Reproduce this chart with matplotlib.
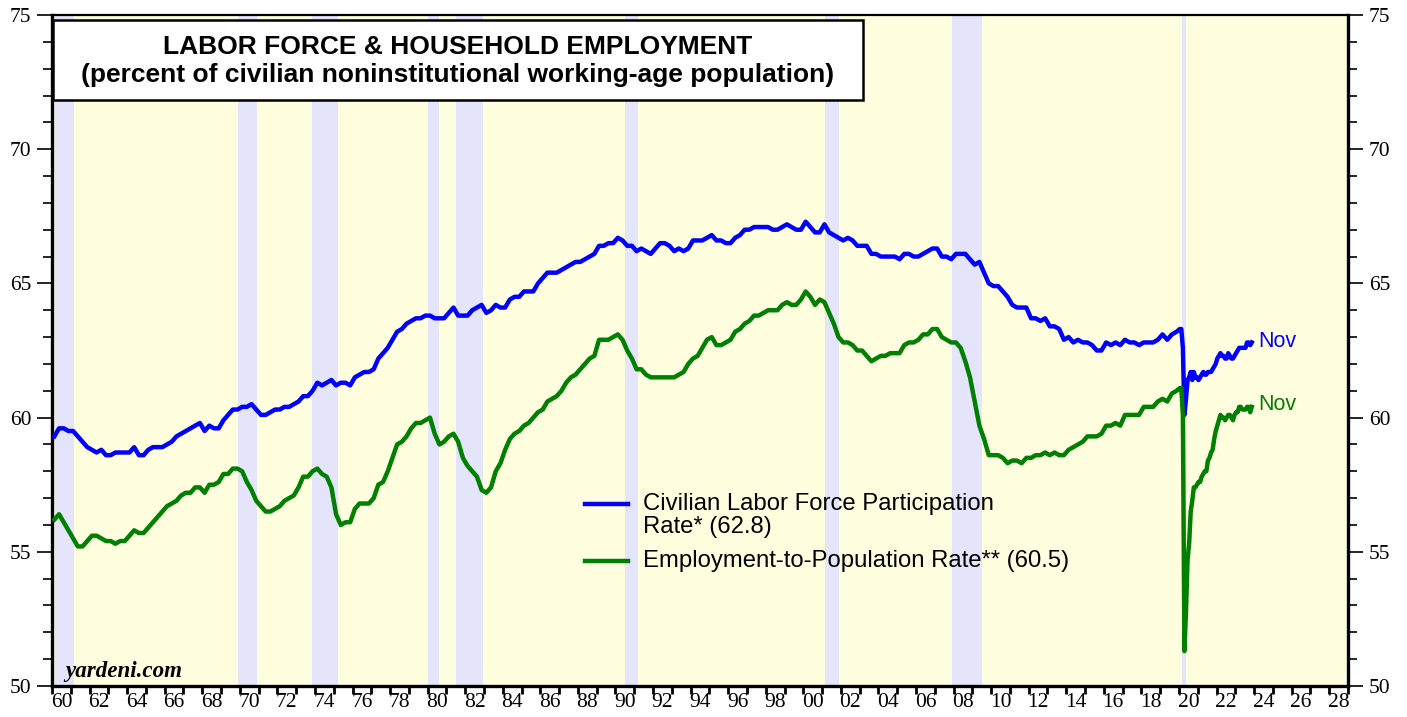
import numpy as np
import matplotlib.pyplot as plt
from matplotlib.patches import Rectangle
from matplotlib.ticker import FixedLocator, MultipleLocator

# quarterly values 1960Q1 - 2019Q4
lfpr_q = [59.3, 59.6, 59.6, 59.5,  59.5, 59.3, 59.1, 58.9,  58.8, 58.7, 58.8, 58.6,
          58.6, 58.7, 58.7, 58.7,  58.7, 58.9, 58.6, 58.6,  58.8, 58.9, 58.9, 58.9,
          59.0, 59.1, 59.3, 59.4,  59.5, 59.6, 59.7, 59.8,  59.5, 59.7, 59.6, 59.6,
          59.9, 60.1, 60.3, 60.3,  60.4, 60.4, 60.5, 60.3,  60.1, 60.1, 60.2, 60.3,
          60.3, 60.4, 60.4, 60.5,  60.6, 60.8, 60.8, 61.0,  61.3, 61.2, 61.3, 61.4,
          61.2, 61.3, 61.3, 61.2,  61.5, 61.6, 61.7, 61.7,  61.8, 62.2, 62.4, 62.6,
          62.9, 63.2, 63.3, 63.5,  63.6, 63.7, 63.7, 63.8,  63.8, 63.7, 63.7, 63.7,
          63.9, 64.1, 63.8, 63.8,  63.8, 64.0, 64.1, 64.2,  63.9, 64.0, 64.2, 64.1,
          64.1, 64.4, 64.5, 64.5,  64.7, 64.7, 64.7, 65.0,  65.2, 65.4, 65.4, 65.4,
          65.5, 65.6, 65.7, 65.8,  65.8, 65.9, 66.0, 66.1,  66.4, 66.4, 66.5, 66.5,
          66.7, 66.6, 66.4, 66.4,  66.2, 66.3, 66.2, 66.1,  66.3, 66.5, 66.5, 66.4,
          66.2, 66.3, 66.2, 66.3,  66.6, 66.6, 66.6, 66.7,  66.8, 66.6, 66.6, 66.5,
          66.5, 66.7, 66.8, 67.0,  67.0, 67.1, 67.1, 67.1,  67.1, 67.0, 67.0, 67.1,
          67.2, 67.1, 67.0, 67.0,  67.3, 67.1, 66.9, 66.9,  67.2, 66.9, 66.8, 66.7,
          66.6, 66.7, 66.6, 66.4,  66.4, 66.4, 66.1, 66.1,  66.0, 66.0, 66.0, 66.0,
          65.9, 66.1, 66.1, 66.0,  66.0, 66.1, 66.2, 66.3,  66.3, 66.0, 66.0, 65.9,
          66.1, 66.1, 66.1, 65.9,  65.7, 65.8, 65.4, 65.0,  64.9, 64.9, 64.7, 64.5,
          64.2, 64.1, 64.1, 64.1,  63.7, 63.7, 63.6, 63.7,  63.4, 63.4, 63.3, 62.9,
          63.0, 62.8, 62.9, 62.8,  62.8, 62.7, 62.5, 62.5,  62.8, 62.7, 62.8, 62.7,
          62.9, 62.8, 62.8, 62.7,  62.8, 62.8, 62.8, 62.9,  63.1, 62.9, 63.1, 63.2]

epop_q = [56.2, 56.4, 56.1, 55.8,  55.5, 55.2, 55.2, 55.4,  55.6, 55.6, 55.5, 55.4,
          55.4, 55.3, 55.4, 55.4,  55.6, 55.8, 55.7, 55.7,  55.9, 56.1, 56.3, 56.5,
          56.7, 56.8, 56.9, 57.1,  57.2, 57.2, 57.4, 57.4,  57.2, 57.5, 57.5, 57.6,
          57.9, 57.9, 58.1, 58.1,  58.0, 57.6, 57.3, 56.9,  56.7, 56.5, 56.5, 56.6,
          56.7, 56.9, 57.0, 57.1,  57.4, 57.8, 57.8, 58.0,  58.1, 57.9, 57.8, 57.4,
          56.4, 56.0, 56.1, 56.1,  56.6, 56.8, 56.8, 56.8,  57.0, 57.5, 57.6, 58.0,
          58.5, 59.0, 59.1, 59.3,  59.6, 59.8, 59.8, 59.9,  60.0, 59.4, 59.0, 59.1,
          59.3, 59.4, 59.1, 58.5,  58.2, 58.0, 57.8, 57.3,  57.2, 57.4, 58.0, 58.3,
          58.8, 59.2, 59.4, 59.5,  59.7, 59.8, 60.0, 60.2,  60.3, 60.6, 60.7, 60.8,
          61.0, 61.3, 61.5, 61.6,  61.8, 62.0, 62.2, 62.3,  62.9, 62.9, 62.9, 63.0,
          63.1, 62.9, 62.5, 62.2,  61.8, 61.8, 61.6, 61.5,  61.5, 61.5, 61.5, 61.5,
          61.5, 61.6, 61.7, 62.0,  62.2, 62.3, 62.6, 62.9,  63.0, 62.7, 62.7, 62.8,
          62.9, 63.2, 63.3, 63.5,  63.6, 63.8, 63.8, 63.9,  64.0, 64.0, 64.0, 64.2,
          64.3, 64.2, 64.2, 64.4,  64.7, 64.5, 64.2, 64.4,  64.3, 63.9, 63.5, 63.0,
          62.8, 62.8, 62.7, 62.5,  62.5, 62.3, 62.1, 62.2,  62.3, 62.3, 62.4, 62.4,
          62.4, 62.7, 62.8, 62.8,  62.9, 63.1, 63.1, 63.3,  63.3, 63.0, 62.9, 62.8,
          62.8, 62.6, 62.1, 61.5,  60.6, 59.7, 59.2, 58.6,  58.6, 58.6, 58.5, 58.3,
          58.4, 58.4, 58.3, 58.5,  58.5, 58.6, 58.6, 58.7,  58.6, 58.7, 58.6, 58.6,
          58.8, 58.9, 59.0, 59.1,  59.3, 59.3, 59.3, 59.4,  59.7, 59.7, 59.8, 59.7,
          60.1, 60.1, 60.1, 60.1,  60.4, 60.4, 60.4, 60.6,  60.7, 60.6, 60.9, 61.0]

# monthly values Jan 2020 - Nov 2023
lfpr_m = [63.3, 63.3, 62.6, 60.1, 60.7, 61.4, 61.5, 61.7, 61.4, 61.7, 61.5, 61.5,
          61.4, 61.5, 61.6, 61.7, 61.6, 61.6, 61.7, 61.7, 61.7, 61.8, 61.9, 62.0,
          62.2, 62.3, 62.4, 62.3, 62.3, 62.2, 62.2, 62.4, 62.3, 62.2, 62.2, 62.3,
          62.4, 62.5, 62.6, 62.6, 62.6, 62.6, 62.6, 62.8, 62.8, 62.7, 62.8]
epop_m = [61.1, 61.1, 60.1, 51.3, 52.8, 54.7, 55.3, 56.5, 56.9, 57.4, 57.4, 57.5,
          57.6, 57.6, 57.8, 57.9, 58.0, 58.0, 58.4, 58.5, 58.7, 58.8, 59.2, 59.5,
          59.7, 59.9, 60.1, 60.0, 60.0, 59.9, 60.0, 60.1, 60.1, 60.0, 59.9, 60.1,
          60.2, 60.2, 60.4, 60.4, 60.3, 60.3, 60.3, 60.4, 60.4, 60.2, 60.4]

recessions = [(1960.16, 1961.17), (1969.90, 1970.92), (1973.84, 1975.23),
              (1980.02, 1980.61), (1981.51, 1982.95), (1990.51, 1991.20),
              (2001.16, 2001.91), (2007.92, 2009.52), (2020.15, 2020.36)]

t_q = 1960 + np.arange(len(lfpr_q)) * 0.25 + 0.125
t_m = 2020 + (np.arange(len(lfpr_m)) + 0.5) / 12
t = np.concatenate([t_q, t_m])
lfpr = np.concatenate([lfpr_q, lfpr_m])
epop = np.concatenate([epop_q, epop_m])

fig = plt.figure(figsize=(14.07, 7.17), dpi=100)
ax = fig.add_axes([52/1407, 31/717, 1296/1407, 671/717])
ax.set_facecolor('#FFFFE0')

for a, b in recessions:
    ax.axvspan(a, b, color='#E4E4FA', lw=0, zorder=1)

ax.plot(t, lfpr, color='#0000FF', lw=3.2, zorder=3)
ax.plot(t, epop, color='#008000', lw=3.2, zorder=3)

ax.set_xlim(1960, 2029)
ax.set_ylim(50, 75)

# x axis: tick marks at year boundaries, labels mid-year
ax.xaxis.set_minor_locator(MultipleLocator(1))
ax.xaxis.set_major_locator(FixedLocator(np.arange(1960, 2029, 2) + 0.5))
ax.set_xticklabels(['%02d' % (y % 100) for y in range(1960, 2029, 2)])
ax.tick_params(axis='x', which='major', length=0, pad=5, labelsize=15.5)
ax.tick_params(axis='x', which='minor', length=6, width=2, direction='out')

ax.yaxis.set_major_locator(MultipleLocator(5))
ax.yaxis.set_minor_locator(MultipleLocator(1))
ax.tick_params(axis='y', which='major', length=11, width=1.2, pad=4, labelsize=15.5,
               left=True, right=True, labelleft=True, labelright=True)
ax.tick_params(axis='y', which='minor', length=6.5, width=1.2, left=True, right=True)
for lab in ax.get_xticklabels() + ax.get_yticklabels():
    lab.set_family('Liberation Serif')

for s in ['left', 'right', 'bottom']:
    ax.spines[s].set_linewidth(2.4)
ax.spines['top'].set_linewidth(1.6)

# title box
ax.add_patch(Rectangle((0.001, 0.873), 0.625, 0.1195, transform=ax.transAxes,
                       facecolor='white', edgecolor='black', lw=1.8, zorder=5))
ax.text(0.313, 0.931, 'LABOR FORCE & HOUSEHOLD EMPLOYMENT\n'
        '(percent of civilian noninstitutional working-age population)',
        transform=ax.transAxes, ha='center', va='center', fontsize=19,
        fontweight='bold', family='Liberation Sans', linespacing=1.2, zorder=6)

# legend
ax.plot([0.4113, 0.4444], [0.2712, 0.2712], transform=ax.transAxes,
        color='#0000FF', lw=3.2, zorder=4)
ax.plot([0.4113, 0.4444], [0.1863, 0.1863], transform=ax.transAxes,
        color='#008000', lw=3.2, zorder=4)
lkw = dict(transform=ax.transAxes, ha='left', va='center', fontsize=17.2,
           family='Liberation Sans', zorder=4)
ax.text(0.456, 0.2712, 'Civilian Labor Force Participation', **lkw)
ax.text(0.456, 0.2375, 'Rate* (62.8)', **lkw)
ax.text(0.456, 0.1863, 'Employment-to-Population Rate** (60.5)', **lkw)

ax.text(0.9306, 0.5127, 'Nov', color='#0000FF', transform=ax.transAxes,
        ha='left', va='center', fontsize=15.5, family='Liberation Sans')
ax.text(0.9306, 0.4188, 'Nov', color='#008000', transform=ax.transAxes,
        ha='left', va='center', fontsize=15.5, family='Liberation Sans')

ax.text(0.010, 0.0134, 'yardeni.com', transform=ax.transAxes, ha='left',
        va='baseline', fontsize=16.6, fontweight='bold', fontstyle='italic',
        family='Liberation Serif', zorder=4)

fig.savefig('out.png', dpi=100)
